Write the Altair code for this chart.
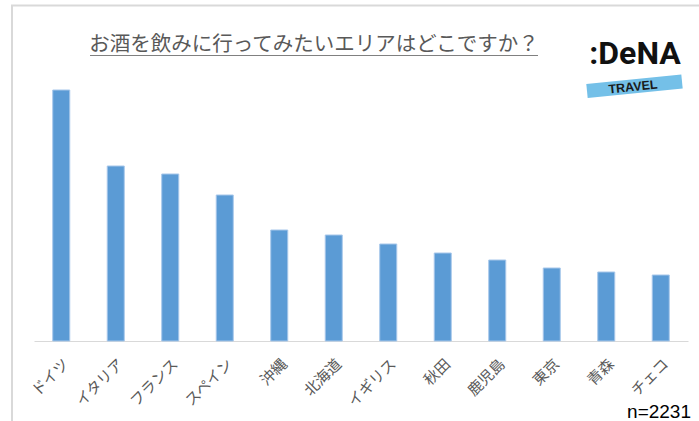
import altair as alt
import pandas as pd

# Data (relative bar heights)
areas = ["ドイツ", "イタリア", "フランス", "スペイン", "沖縄", "北海道",
         "イギリス", "秋田", "鹿児島", "東京", "青森", "チェコ"]
values = [251, 175, 167, 146, 111, 106, 97, 88, 81, 73, 69, 66]

title_text = "お酒を飲みに行ってみたいエリアはどこですか？"
n_text = "n=2231"
logo_text = ":DeNA"
logo_sub = "TRAVEL"

JP = "Noto Sans CJK JP"
W, H = 654, 261

df = pd.DataFrame({"area": areas, "value": values})

bars = alt.Chart(df).mark_bar(color="#5b9bd5", stroke="#a7c7ea", strokeWidth=1).encode(
    x=alt.X("area:N", sort=areas,
            scale=alt.Scale(paddingInner=0.688, paddingOuter=0.344),
            axis=alt.Axis(title=None, labelAngle=-45, labelAlign="right",
                          labelBaseline="middle", labelFontSize=15,
                          labelColor="#595959", labelFont=JP, ticks=False,
                          domainColor="#d9d9d9", domainWidth=1,
                          labelPadding=20, labelOffset=5)),
    y=alt.Y("value:Q", scale=alt.Scale(domain=[0, 261], nice=False), axis=None),
)

def one(text):
    return alt.Chart(pd.DataFrame({"t": [text]}))

title = one(title_text).mark_text(font=JP, fontSize=20.5, color="#595959",
                                  align="center", baseline="middle").encode(
    text="t:N", x=alt.value(280), y=alt.value(-35))

underline = one(title_text).mark_rule(color="#808080", strokeWidth=1).encode(
    x=alt.value(56), x2=alt.value(504), y=alt.value(-24.5))

frame_top = one("f").mark_rule(color="#d9d9d9", strokeWidth=2).encode(
    x=alt.value(-23), x2=alt.value(665), y=alt.value(-74.5))
frame_left = one("f").mark_rule(color="#d9d9d9", strokeWidth=2).encode(
    x=alt.value(-22), y=alt.value(-75), y2=alt.value(341))

logo = one(logo_text).mark_text(font="Roboto", fontSize=32, fontWeight="bold",
                                color="#111111", align="center", baseline="middle").encode(
    text="t:N", x=alt.value(601), y=alt.value(-26))

band = one("b").mark_rule(color="#74c0e8", strokeWidth=14).encode(
    x=alt.value(553), y=alt.value(11), x2=alt.value(648), y2=alt.value(1.5))

travel = one(logo_sub).mark_text(font="Liberation Sans", fontSize=12.5, fontWeight="bold",
                                 color="#1a1a1a", align="center", baseline="middle",
                                 angle=354).encode(
    text="t:N", x=alt.value(599), y=alt.value(7))

ntext = one(n_text).mark_text(font="Liberation Sans", fontSize=19, color="#000000",
                              align="right", baseline="alphabetic").encode(
    text="t:N", x=alt.value(657), y=alt.value(338))

chart = alt.layer(bars, frame_top, frame_left, title, underline, band, logo, travel, ntext).properties(
    width=W, height=H,
    autosize=alt.AutoSizeParams(type="none"),
    padding={"left": 34, "top": 80, "right": 11, "bottom": 80},
    background="white",
).configure_view(stroke=None)

chart.save("out.html", embed_options={"renderer": "svg", "actions": False})
